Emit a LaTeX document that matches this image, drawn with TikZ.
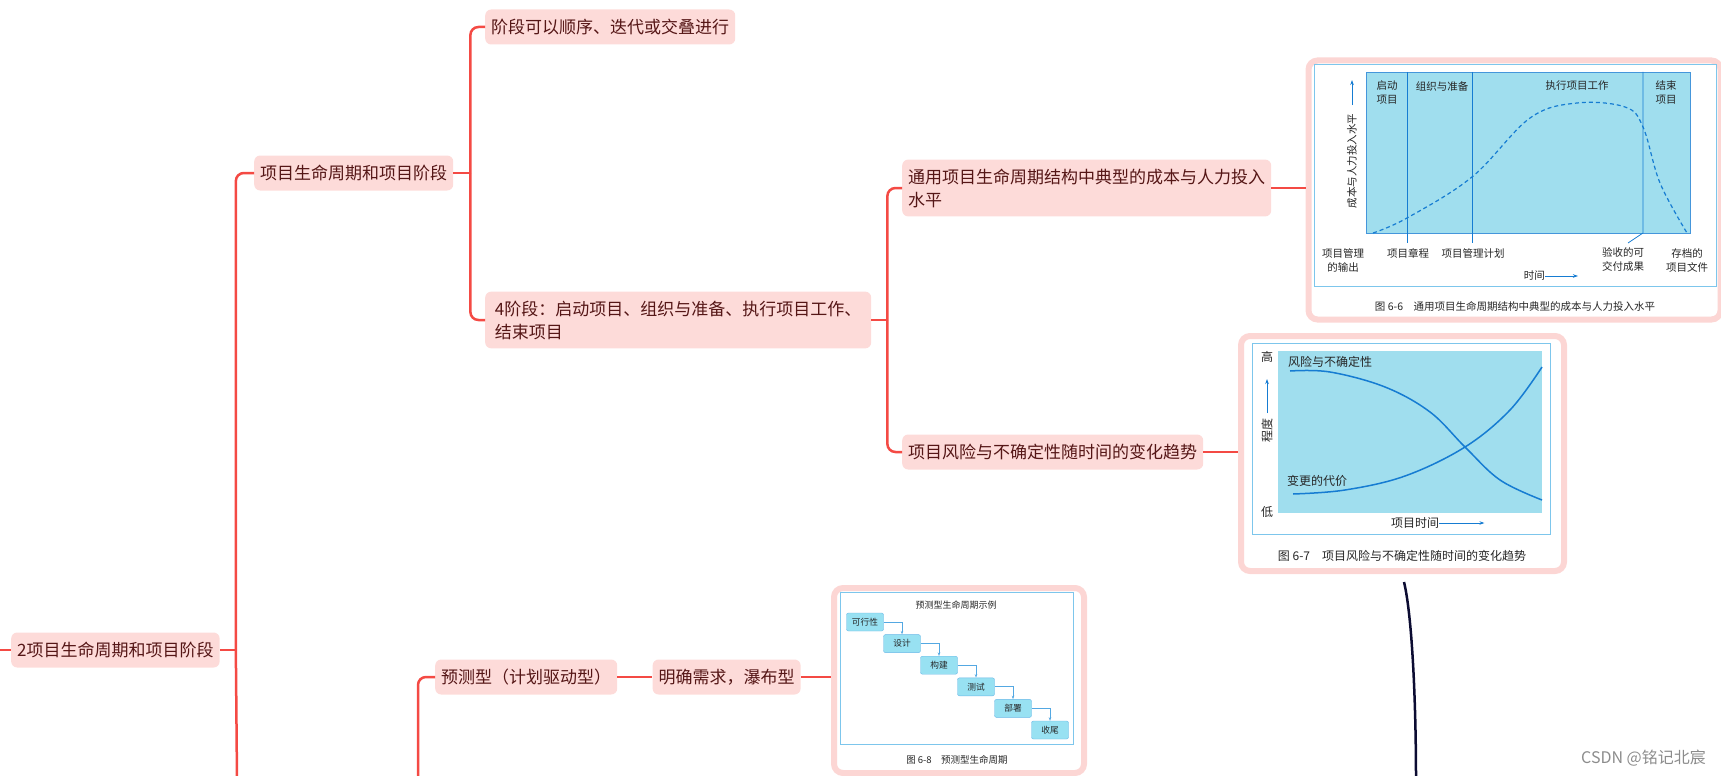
\documentclass[tikz,border=0pt]{standalone}
\usepackage{fontspec}
\setmainfont{Noto Sans CJK SC}
\usetikzlibrary{arrows.meta, positioning, calc}

\definecolor{linkred}{RGB}{244,74,68}
\definecolor{topicfill}{RGB}{253,219,217}
\definecolor{topictext}{RGB}{85,22,22}
\definecolor{framepink}{RGB}{252,214,212}
\definecolor{chartcyan}{RGB}{160,222,238}
\definecolor{chartblue}{RGB}{22,124,210}
\definecolor{panelblue}{RGB}{125,198,236}
\definecolor{boxfill}{RGB}{152,225,242}
\definecolor{inkblue}{RGB}{12,12,50}

\begin{document}
\begin{tikzpicture}[x=1pt, y=-1pt,
  topic/.style={
    rectangle, fill=topicfill, rounded corners=6pt, text=topictext,
    font=\fontsize{17}{23}\selectfont, inner xsep=6pt, inner ysep=9pt,
    minimum height=35pt, align=left, anchor=west},
  link/.style={draw=linkred, line width=2.5pt},
  elbow/.style={link, rounded corners=8pt},
  shot/.style={
    rectangle, draw=framepink, line width=6pt, fill=white,
    rounded corners=9pt, anchor=north west, inner sep=0pt},
  panel/.style={draw=panelblue, line width=1pt, fill=white},
  plotbg/.style={fill=chartcyan, draw=chartblue!80, line width=0.6pt},
  lbl/.style={font=\fontsize{10.5}{14}\selectfont, text=black!85, inner sep=0pt, align=center},
  big/.style={font=\fontsize{12}{14}\selectfont, text=black!85, inner sep=0pt},
  small/.style={font=\fontsize{9}{11}\selectfont, text=black!85, inner sep=0pt},
  curve/.style={draw=chartblue, line width=1.5pt},
  axarr/.style={-{Stealth[length=5pt,width=3.5pt]}, draw=chartblue, line width=0.8pt},
  wbox/.style={
    rectangle, draw=panelblue!80!chartblue, fill=boxfill, rounded corners=2pt,
    minimum width=37pt, minimum height=18pt, inner sep=0pt,
    font=\fontsize{8.7}{10}\selectfont, text=black!85},
  warr/.style={-{Stealth[length=3.5pt,width=2.5pt]}, draw=panelblue!60!chartblue, line width=0.7pt}
]
\useasboundingbox (0,0) rectangle (1721,776);
% ── Topics ──
\node[topic] (root) at (11,650)  {2项目生命周期和项目阶段};
\node[topic] (n1)   at (254,173) {项目生命周期和项目阶段};
\node[topic] (n11)  at (485,27)  {阶段可以顺序、迭代或交叠进行};
\node[topic, minimum width=386pt] (n12) at (485,320) {4阶段：启动项目、组织与准备、执行项目工作、\\结束项目};
\node[topic] (n121) at (902,188) {通用项目生命周期结构中典型的成本与人力投入\\水平};
\node[topic] (n122) at (902,452) {项目风险与不确定性随时间的变化趋势};
\node[topic] (pred) at (435,677) {预测型（计划驱动型）};
\node[topic, right=35pt of pred] (water) {明确需求，瀑布型};
% ── Image frames ──
\node[shot, minimum width=412pt, minimum height=259pt] (img1) at (1305.5,57.5) {};
\node[shot, minimum width=323pt, minimum height=235pt] (img2) at (1238,333) {};
\node[shot, minimum width=250pt, minimum height=185pt] (img3) at (831,585) {};
% ── Links ──
\coordinate (in0) at (0,650);
\coordinate (t0) at ($(root.east)+(16,0)$);
\coordinate (t0b) at (237,780);
\coordinate (t1) at ($(n1.east)+(17,0)$);
\coordinate (t2) at ($(n12.east)+(16,0)$);
\coordinate (t3) at (418,780);
\draw[link] (in0) -- (root.west);
\draw[link] (root.east) -- (t0);
\draw[link] (t0) -- (t0b);
\draw[elbow] (t0) |- (n1.west);
\draw[link] (n1.east) -- (t1);
\draw[elbow] (t1) |- (n11.west);
\draw[elbow] (t1) |- (n12.west);
\draw[link] (n12.east) -- (t2);
\draw[elbow] (t2) |- (n121.west);
\draw[elbow] (t2) |- (n122.west);
\draw[link] (n121.east) -- (n121.east -| img1.west);
\draw[link] (n122.east) -- (n122.east -| img2.west);
\draw[elbow] (t3) |- (pred.west);
\draw[link] (pred.east) -- (water.west);
\draw[link] (water.east) -- (water.east -| img3.west);
% ── Figure 6-6 ──
\draw[panel] (1314,65) rectangle (1716,286);
\draw[plotbg] (1366,72) rectangle (1690,233);
\draw[chartblue, line width=0.8pt] (1407,72) -- (1407,243);
\draw[chartblue, line width=0.8pt] (1472,72) -- (1472,243);
\draw[chartblue, line width=0.8pt] (1643,72) -- (1643,233) -- (1628,243);
\draw[chartblue, line width=1.2pt, dash pattern=on 4pt off 3pt]
  plot[smooth, tension=0.6] coordinates {(1373,233) (1407,218) (1472,177) (1530,118) (1577,103) (1625,107) (1643,127) (1660,183) (1687,233)};
\node[lbl] (ph1) at (1387,92)  {启动\\项目};
\node[lbl] (ph2) at (1442,86)  {组织与准备};
\node[lbl] (ph3) at (1577,86)  {执行项目工作};
\node[lbl] (ph4) at (1666,92)  {结束\\项目};
\node[lbl, rotate=90] (ylab) at (1352,161) {成本与人力投入水平};
\coordinate (ya) at (1352,105);
\coordinate (yb) at (1352,80);
\draw[axarr] (ya) -- (yb);
\node[lbl] (o1) at (1343,260) {项目管理\\的输出};
\node[lbl] (o2) at (1408,253) {项目章程};
\node[lbl] (o3) at (1473,253) {项目管理计划};
\node[lbl] (o4) at (1623,260) {验收的可\\交付成果};
\node[lbl] (o5) at (1687,260) {存档的\\项目文件};
\node[lbl, anchor=east] (time1) at (1545,276) {时间};
\draw[axarr] (time1.east) -- ++(33,0);
\node[lbl] (cap1) at (1515,306) {图 6-6\quad 通用项目生命周期结构中典型的成本与人力投入水平};
% ── Figure 6-7 ──
\draw[panel] (1252,343) rectangle (1550,534);
\fill[chartcyan] (1278,351) rectangle (1542,513);
\draw[curve] plot[smooth, tension=0.6] coordinates {(1290,371) (1330,372) (1385,387) (1430,412) (1465,447) (1500,480) (1542,500)};
\draw[curve] plot[smooth, tension=0.6] coordinates {(1293,494) (1345,490) (1405,476) (1465,447) (1510,410) (1542,367)};
\node[big] (hi) at (1267,357) {高};
\node[big] (lo) at (1267,512) {低};
\node[big, rotate=90] (deg) at (1267,430) {程度};
\coordinate (da) at (1267,413);
\coordinate (db) at (1267,379);
\draw[axarr] (da) -- (db);
\node[big, anchor=west] (risk) at (1288,362) {风险与不确定性};
\node[big, anchor=west] (cost) at (1287,481) {变更的代价};
\node[big, anchor=west] (time2) at (1391,523) {项目时间};
\draw[axarr] (time2.east) -- ++(45,0);
\node[big] (cap2) at (1402,556) {图 6-7\quad 项目风险与不确定性随时间的变化趋势};
% ── Figure 6-8 ──
\draw[panel] (840,592) rectangle (1073,744);
\node[small] (wt) at (956,605) {预测型生命周期示例};
\foreach \t [count=\i] in {可行性,设计,构建,测试,部署,收尾}
  \node[wbox] (w\i) at ({865+37*(\i-1)}, {622+21.6*(\i-1)}) {\t};
\foreach \i [evaluate=\i as \j using int(\i+1)] in {1,...,5}
  \draw[warr] (w\i.east) -| (w\j.north);
\node[small, font=\fontsize{9.5}{11}\selectfont] (cap3) at (957,760) {图 6-8\quad 预测型生命周期};
% ── Stray stroke and mark ──
\coordinate (d1) at (1404,582);
\coordinate (d2) at (1416,780);
\draw[inkblue, line width=2.5pt] (d1) .. controls (1412,615) and (1416,700) .. (d2);
\node[font=\fontsize{16}{18}\selectfont, text=black!45, anchor=east, inner sep=0pt] (mark) at (1706,758) {CSDN @铭记北宸};
\end{tikzpicture}
\end{document}
